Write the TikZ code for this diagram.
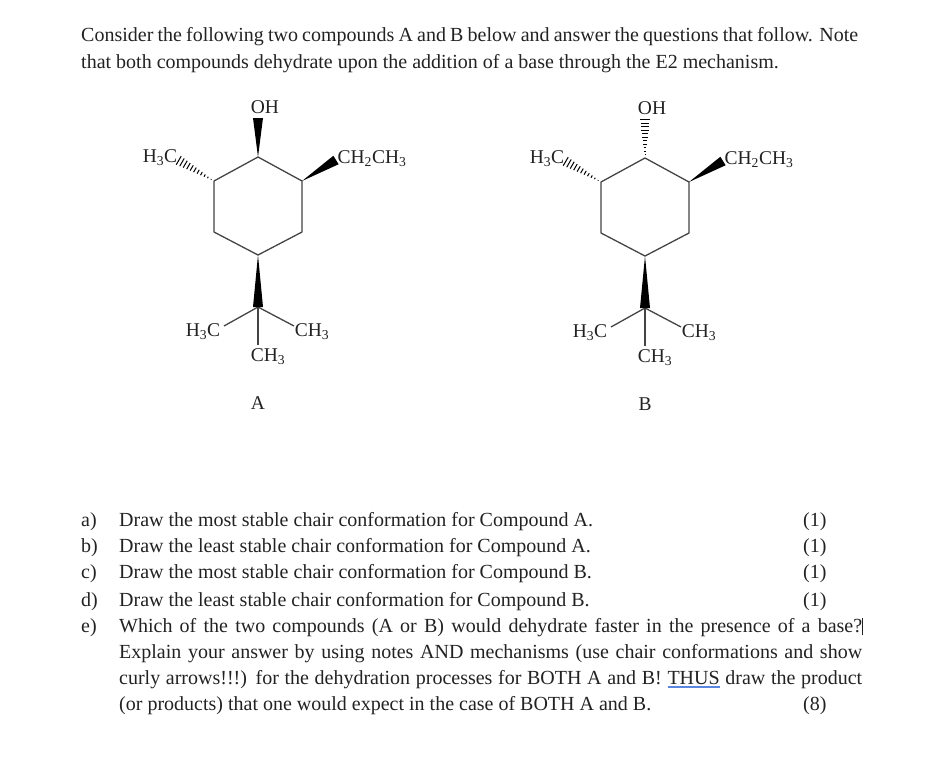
\documentclass[tikz,border=0pt]{standalone}
\usepackage{fontspec}
\setmainfont{Liberation Serif}
\usetikzlibrary{calc}
\definecolor{inkText}{HTML}{222222}
\definecolor{inkBond}{HTML}{444444}
\definecolor{inkLink}{HTML}{5B86E0}
\tikzset{
  qline/.style={anchor=base west, inner sep=0pt, text=inkText, font=\fontsize{20}{22}\selectfont},
  atom/.style={inner sep=0pt, text=inkText, font=\fontsize{19.5}{22}\selectfont},
  bond/.style={draw=inkBond, line width=1.3pt},
}
\newsavebox{\myWordBox}
\newcommand{\myFit}[2]{\makebox[#1pt][s]{#2}}
\newcommand{\mySub}[1]{\textsubscript{#1}}
\newcommand{\myLink}[1]{\sbox{\myWordBox}{#1}\rlap{\textcolor{inkLink}{\rule[-3.6pt]{\wd\myWordBox}{1.4pt}}}\usebox{\myWordBox}}
\newcommand{\myWedge}[2]{
\fill[black] (#1) -- ($(#2)!5pt!90:(#1)$) -- ($(#2)!5pt!-90:(#1)$) -- cycle;
}
\newcommand{\myHash}[2]{
\foreach \t in {0.08,0.17,...,1.0}
  \draw[black, line width=1pt] ($(#1)!\t!(#2)!5pt*\t!90:(#2)$) -- ($(#1)!\t!(#2)!5pt*\t!-90:(#2)$);
}
\newcommand{\myRing}{
  \coordinate (top) at (258,157);
  \coordinate (ru) at (302,181);
  \coordinate (rl) at (302,232);
  \coordinate (bot) at (258,255);
  \coordinate (ll) at (214,232);
  \coordinate (lu) at (214,181);
  \coordinate (ohEnd) at (258,118);
  \coordinate (meEnd) at (178,160);
  \coordinate (etEnd) at (336,160);
  \coordinate (iso) at (258,307);
  \coordinate (isoL) at (224,326);
  \coordinate (isoR) at (294,326);
  \coordinate (isoD) at (258,345);
  \draw[bond, line join=round] (top) -- (ru) -- (rl) -- (bot) -- (ll) -- (lu) -- cycle;
  \draw[bond] (iso) -- (isoL);
  \draw[bond] (iso) -- (isoR);
  \draw[bond] (iso) -- (isoD);
  \myHash{lu}{meEnd}
  \myWedge{ru}{etEnd}
  \myWedge{bot}{iso}
  \node[atom] (oh) at (265,107) {OH};
  \node[atom] (me) at (160,158) {H\mySub{3}C};
  \node[atom] (et) at (372,159) {CH\mySub{2}CH\mySub{3}};
  \node[atom] (meL) at (203,332) {H\mySub{3}C};
  \node[atom] (meR) at (312,332) {CH\mySub{3}};
  \node[atom] (meD) at (268,357) {CH\mySub{3}};
}
\begin{document}
\begin{tikzpicture}[x=1pt,y=-1pt]
\useasboundingbox (0,0) rectangle (927,761);
\node[qline] (intro1) at (81,41) {\myFit{777}{Consider the following two compounds A and B below and answer the questions that follow. Note}};
\node[qline] (intro2) at (81,68) {that both compounds dehydrate upon the addition of a base through the E2 mechanism.};
%% compound A
\begin{scope}
  \myRing
  \myWedge{top}{ohEnd}
  \node[atom] (nameA) at (258,403) {A};
\end{scope}
%% compound B
\begin{scope}[shift={(387,1)}]
  \myRing
  \myHash{top}{ohEnd}
  \node[atom] (nameB) at (258,403) {B};
\end{scope}
%% questions
\node[qline] (la) at (81,526) {a)};
\node[qline] (lb) at (81,552) {b)};
\node[qline] (lc) at (81,578) {c)};
\node[qline] (ld) at (81,606) {d)};
\node[qline] (le) at (81,632) {e)};
\node[qline] (qa) at (119,526) {Draw the most stable chair conformation for Compound A.};
\node[qline] (qb) at (119,552) {Draw the least stable chair conformation for Compound A.};
\node[qline] (qc) at (119,578) {Draw the most stable chair conformation for Compound B.};
\node[qline] (qd) at (119,606) {Draw the least stable chair conformation for Compound B.};
\node[qline] (qe) at (119,632) {\myFit{743}{Which of the two compounds (A or B) would dehydrate faster in the presence of a base?\rlap{\rule[-3pt]{0.9pt}{17pt}}}};
\node[qline] (qf) at (119,658) {\myFit{743}{Explain your answer by using notes AND mechanisms (use chair conformations and show}};
\node[qline] (qg) at (119,684) {\myFit{743}{curly arrows!!!) for the dehydration processes for BOTH A and B! \myLink{THUS} draw the product}};
\node[qline] (qh) at (119,710) {(or products) that one would expect in the case of BOTH A and B.};
\node[qline] (ma) at (803,526) {(1)};
\node[qline] (mb) at (803,552) {(1)};
\node[qline] (mc) at (803,578) {(1)};
\node[qline] (md) at (803,606) {(1)};
\node[qline] (mh) at (803,710) {(8)};
\end{tikzpicture}
\end{document}
